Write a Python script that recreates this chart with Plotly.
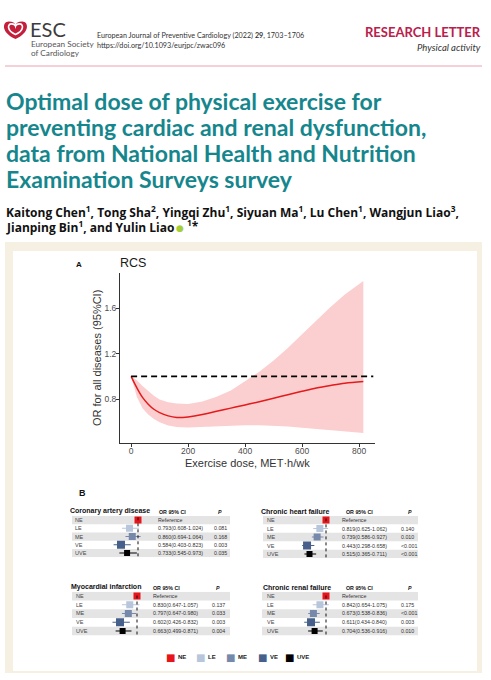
import plotly.graph_objects as go

W, H = 491, 680


def X(px):
    return px / W


def Y(py):
    return 1 - py / H


# ---------------- data: panel A (restricted cubic spline) ----------------
dose = [0, 20, 40, 60, 80, 100, 130, 160, 200, 250, 300, 350, 400, 450, 500,
        550, 600, 650, 700, 750, 815]
or_fit = [1.0, 0.90, 0.815, 0.755, 0.71, 0.68, 0.652, 0.638, 0.643, 0.663, 0.692,
          0.72, 0.748, 0.777, 0.807, 0.838, 0.868, 0.897, 0.92, 0.94, 0.955]
or_upper = [1.0, 0.965, 0.915, 0.868, 0.828, 0.797, 0.772, 0.76, 0.757, 0.778, 0.82,
            0.875, 0.955, 1.04, 1.14, 1.25, 1.37, 1.49, 1.61, 1.72, 1.84]
or_lower = [1.0, 0.82, 0.72, 0.665, 0.625, 0.595, 0.568, 0.553, 0.55, 0.556, 0.562,
            0.567, 0.569, 0.569, 0.566, 0.558, 0.548, 0.538, 0.527, 0.516, 0.50]
x_ticks = [0, 200, 400, 600, 800]
y_ticks = [0.8, 1.2, 1.6]

# ---------------- data: panel B (forest plots) ----------------
groups = ["NE", "LE", "ME", "VE", "UVE"]

cad_or = [1.0, 0.793, 0.860, 0.584, 0.733]
cad_lo = [1.0, 0.608, 0.694, 0.403, 0.545]
cad_hi = [1.0, 1.024, 1.064, 0.823, 0.973]
cad_p = ["", "0.081", "0.168", "0.003", "0.035"]

chf_or = [1.0, 0.819, 0.739, 0.443, 0.515]
chf_lo = [1.0, 0.625, 0.586, 0.298, 0.365]
chf_hi = [1.0, 1.062, 0.927, 0.658, 0.711]
chf_p = ["", "0.140", "0.010", "<0.001", "<0.001"]

mi_or = [1.0, 0.830, 0.797, 0.602, 0.663]
mi_lo = [1.0, 0.647, 0.647, 0.426, 0.499]
mi_hi = [1.0, 1.057, 0.980, 0.832, 0.871]
mi_p = ["", "0.137", "0.033", "0.003", "0.004"]

crf_or = [1.0, 0.842, 0.673, 0.611, 0.704]
crf_lo = [1.0, 0.654, 0.538, 0.434, 0.536]
crf_hi = [1.0, 1.075, 0.836, 0.840, 0.916]
crf_p = ["", "0.175", "<0.001", "0.003", "0.010"]

# ---------------- styles ----------------
group_colors = ["#e8141b", "#b8c6dc", "#7689ab", "#46608b", "#000000"]
marker_sizes = [7, 7, 7, 8, 6]
TEAL = "#16868d"
CRIMSON = "#b9204a"
SANS = "Liberation Sans, Arial, sans-serif"
HUM = "Lato, Open Sans, sans-serif"
OPEN = "Open Sans, Lato, sans-serif"

fig = go.Figure()
annotations = []
shapes = []


def ann(text, px, py, size, color="#222", xanchor="left", yanchor="middle",
        family=SANS, xref="paper", yref="paper", **kw):
    annotations.append(dict(
        text=text, x=X(px) if xref == "paper" else px,
        y=Y(py) if yref == "paper" else py, xref=xref, yref=yref,
        xanchor=xanchor, yanchor=yanchor, showarrow=False, borderpad=0,
        font=dict(size=size, color=color, family=family), **kw))


def rect(x0, y0, x1, y1, color, layer="below"):
    shapes.append(dict(type="rect", xref="paper", yref="paper", x0=X(x0), x1=X(x1),
                       y0=Y(y1), y1=Y(y0), fillcolor=color, line=dict(width=0),
                       layer=layer))


def heart_path(cx, cy, s):
    pts = [(0, 1.0), (-0.65, 0.55), (-0.6, -0.25), (-0.3, -0.25),
           (-0.12, -0.25), (-0.02, -0.12), (0, 0.0),
           (0.02, -0.12), (0.12, -0.25), (0.3, -0.25),
           (0.6, -0.25), (0.65, 0.55), (0, 1.0)]

    def P(p):
        return f"{X(cx + p[0] * s * 1.6):.5f},{Y(cy + p[1] * s):.5f}"
    d = "M " + P(pts[0])
    d += " C " + P(pts[1]) + " " + P(pts[2]) + " " + P(pts[3])
    d += " C " + P(pts[4]) + " " + P(pts[5]) + " " + P(pts[6])
    d += " C " + P(pts[7]) + " " + P(pts[8]) + " " + P(pts[9])
    d += " C " + P(pts[10]) + " " + P(pts[11]) + " " + P(pts[12]) + " Z"
    return d


# ---------------- page header ----------------
shapes.append(dict(type="path", xref="paper", yref="paper", path=heart_path(15.5, 25, 14),
                   fillcolor="#c41e3a", line=dict(width=0)))
shapes.append(dict(type="path", xref="paper", yref="paper", path=heart_path(15.5, 26, 8.5),
                   fillcolor="rgba(0,0,0,0)", line=dict(width=1.6, color="#ffffff")))
ann("ESC", 29, 29, 20, "#3c3c3c", family=HUM)
ann("European Society", 30, 44, 8.2, "#555", family=HUM)
ann("of Cardiology", 30, 53, 8.2, "#555", family=HUM)
ann("European Journal of Preventive Cardiology (2022) <b>29</b>, 1703–1706",
    96, 35, 7.2, "#333", family=HUM)
ann("https://doi.org/10.1093/eurjpc/zwac096", 96, 46, 7.2, "#333", family=HUM)
ann("<b>RESEARCH LETTER</b>", 482, 32, 13, CRIMSON, xanchor="right", family=HUM)
ann("<i>Physical activity</i>", 482, 48, 9.5, "#333", xanchor="right", family=HUM)
shapes.append(dict(type="line", xref="paper", yref="paper", x0=X(5), x1=X(482),
                   y0=Y(66), y1=Y(66), line=dict(color="#e8a3b3", width=1)))

title_lines = ["Optimal dose of physical exercise for",
               "preventing cardiac and renal dysfunction,",
               "data from National Health and Nutrition",
               "Examination Surveys survey"]
for i, t in enumerate(title_lines):
    ann("<b>" + t + "</b>", 5, 101 + 26 * i, 23, TEAL, family=HUM)

ann("<b>Kaitong Chen<sup>1</sup>, Tong Sha<sup>2</sup>, Yingqi Zhu<sup>1</sup>, "
    "Siyuan Ma<sup>1</sup>, Lu Chen<sup>1</sup>, Wangjun Liao<sup>3</sup>,</b>",
    5, 212, 12, "#111", family=OPEN)
ann("<b>Jianping Bin<sup>1</sup>, and Yulin Liao</b>", 5, 227, 12, "#111", family=OPEN)
ann("●", 180, 228, 9, "#a6ce39", xanchor="center", family="DejaVu Sans")
ann("<b><sup>1</sup>*</b>", 186, 226, 12, "#111", family=OPEN)

# ---------------- figure frame ----------------
rect(5, 242, 482, 673, "#f5f0e2")
rect(13, 251, 477, 671, "#ffffff")

# ---------------- panel A ----------------
fig.add_trace(go.Scatter(x=dose, y=or_lower, mode="lines", line=dict(width=0),
                         hoverinfo="skip", showlegend=False, xaxis="x", yaxis="y"))
fig.add_trace(go.Scatter(x=dose, y=or_upper, mode="lines", line=dict(width=0),
                         fill="tonexty", fillcolor="#fbcfcf", hoverinfo="skip",
                         showlegend=False, xaxis="x", yaxis="y"))
fig.add_trace(go.Scatter(x=dose, y=or_fit, mode="lines", line=dict(color="#e41a1c", width=1.5,
                         shape="spline"), showlegend=False, xaxis="x", yaxis="y"))
shapes.append(dict(type="line", xref="x", yref="y", x0=0, x1=850, y0=1, y1=1,
                   line=dict(color="#000", width=1.8, dash="6px,4px")))

axis_common = dict(showgrid=False, zeroline=False, showline=True, linecolor="#333",
                   linewidth=1, ticks="outside", ticklen=3, tickcolor="#333",
                   tickfont=dict(size=8.5, color="#4d4d4d", family=SANS))
fig.update_layout(
    xaxis=dict(domain=[X(120), X(375)], range=[-39, 856], tickvals=x_ticks,
               anchor="y", ticklabelstandoff=-3, **axis_common),
    yaxis=dict(domain=[Y(443), Y(273)], range=[0.413, 1.91], tickvals=y_ticks,
               tickformat=".1f", anchor="x", ticklabelstandoff=-2, **axis_common),
)
ann("<b>A</b>", 75, 265, 8, "#111")
ann("RCS", 119, 263, 12.5, "#1a1a1a")
ann("Exercise dose, MET·h/wk", 247, 463, 11, "#333", xanchor="center")
ann("OR for all diseases (95%CI)", 97, 358, 11, "#333", xanchor="center", textangle=-90)

# ---------------- panel B ----------------
ann("<b>B</b>", 78, 493, 9, "#111")

panels = [
    dict(title="Coronary artery disease", orv=cad_or, lo=cad_lo, hi=cad_hi, p=cad_p,
         bl=72, br=230, ref=138, scale=40.9, top=520, bot=553,
         tx=69, ty=511, lab=74, ortx=157, ptx=213, hdr=158, phdr=217),
    dict(title="Chronic heart failure", orv=chf_or, lo=chf_lo, hi=chf_hi, p=chf_p,
         bl=263, br=418, ref=326, scale=34.0, top=520, bot=554,
         tx=260, ty=511, lab=266, ortx=341, ptx=400, hdr=345, phdr=407),
    dict(title="Myocardial infarction", orv=mi_or, lo=mi_lo, hi=mi_hi, p=mi_p,
         bl=72, br=230, ref=137, scale=42.7, top=596, bot=631,
         tx=70, ty=587, lab=75, ortx=152, ptx=211, hdr=152, phdr=215),
    dict(title="Chronic renal failure", orv=crf_or, lo=crf_lo, hi=crf_hi, p=crf_p,
         bl=262, br=418, ref=326, scale=38.5, top=596, bot=631,
         tx=262, ty=587, lab=266, ortx=341, ptx=400, hdr=345, phdr=407),
]

for k, pn in enumerate(panels, start=2):
    xa, ya = f"x{k}", f"y{k}"
    step = (pn["bot"] - pn["top"]) / 4
    fig.update_layout(**{
        f"xaxis{k}": dict(domain=[X(pn["bl"]), X(pn["br"])],
                          range=[1 - (pn["ref"] - pn["bl"]) / pn["scale"],
                                 1 + (pn["br"] - pn["ref"]) / pn["scale"]],
                          visible=False, anchor=ya),
        f"yaxis{k}": dict(domain=[Y(pn["bot"] + step / 2), Y(pn["top"] - step / 2)],
                          range=[4.5, -0.5], visible=False, anchor=xa),
    })
    for i in (0, 2, 4):
        shapes.append(dict(type="rect", xref=f"{xa} domain", yref=ya, x0=0, x1=1,
                           y0=i - 0.5, y1=i + 0.5, fillcolor="#e4e4e4",
                           line=dict(width=0), layer="below"))
    shapes.append(dict(type="line", xref=xa, yref=f"{ya} domain", x0=1, x1=1,
                       y0=0.02, y1=0.98, line=dict(color="#111", width=1, dash="dot")))
    for i, g in enumerate(groups):
        fig.add_trace(go.Scatter(
            x=[pn["orv"][i]], y=[i], mode="markers", xaxis=xa, yaxis=ya,
            marker=dict(symbol="square", size=marker_sizes[i], color=group_colors[i],
                        line=dict(width=0)),
            error_x=dict(type="data", symmetric=False,
                         array=[pn["hi"][i] - pn["orv"][i]],
                         arrayminus=[pn["orv"][i] - pn["lo"][i]],
                         color=group_colors[i], thickness=1, width=0),
            showlegend=False))
        ann(g, pn["lab"], i, 5.5, "#444", yref=ya)
        txt = "Reference" if i == 0 else \
            f"{pn['orv'][i]:.3f}({pn['lo'][i]:.3f}-{pn['hi'][i]:.3f})"
        ann(txt, pn["ortx"], i, 5.3, "#333", yref=ya)
        if pn["p"][i]:
            ann(pn["p"][i], pn["ptx"], i, 5.3, "#333", yref=ya)
    ann("<b>" + pn["title"] + "</b>", pn["tx"], pn["ty"], 7, "#111")
    ann("<b>OR 95% CI</b>", pn["hdr"], pn["ty"] + 1, 5.3, "#111")
    ann("<b><i>P</i></b>", pn["phdr"], pn["ty"] + 1, 5.3, "#111")

# legend
legend_x = [170, 200, 230, 262, 289]
for i, g in enumerate(groups):
    ann("■", legend_x[i], 657, 10, group_colors[i], xanchor="center", family="DejaVu Sans")
    ann("<b>" + g + "</b>", legend_x[i] + 7, 657, 6, "#222")

fig.update_layout(
    width=W, height=H, margin=dict(l=0, r=0, t=0, b=0),
    paper_bgcolor="#ffffff", plot_bgcolor="rgba(0,0,0,0)",
    showlegend=False, annotations=annotations, shapes=shapes,
)

fig.write_html("out.html", config={"displayModeBar": False},
               post_script="document.body.style.margin='0px';"
                           "document.body.style.overflow='hidden';")
